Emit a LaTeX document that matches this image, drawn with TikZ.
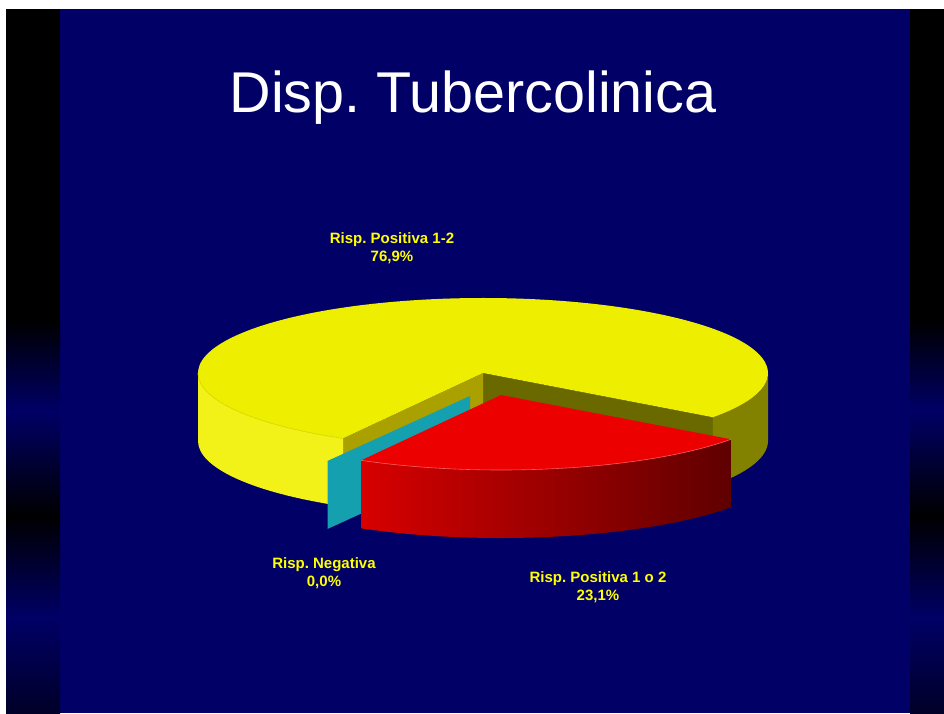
\documentclass[tikz,border=0pt]{standalone}
\usepackage{fontspec}
\setmainfont{Liberation Sans}
\usetikzlibrary{calc}
\definecolor{navy}{RGB}{0,0,102}
\definecolor{stripdark}{RGB}{0,0,40}
\definecolor{ytop}{RGB}{238,238,0}
\definecolor{yside}{RGB}{242,242,24}
\definecolor{yedge}{RGB}{222,222,0}
\definecolor{oside}{RGB}{130,130,0}
\definecolor{ocutR}{RGB}{105,105,0}
\definecolor{ocutL}{RGB}{170,160,0}
\definecolor{teal}{RGB}{20,160,175}
\definecolor{rtop}{RGB}{236,0,0}
\definecolor{rleft}{RGB}{215,0,0}
\definecolor{rright}{RGB}{95,0,0}
\definecolor{redge}{RGB}{255,90,90}
\definecolor{labyellow}{RGB}{255,255,0}
\tikzset{
  lab/.style={anchor=north, inner sep=0pt, align=center, text=labyellow,
    font=\bfseries\fontsize{15}{18.5}\selectfont},
  ell/.style={x radius=285, y radius=75}
}
\frenchspacing
\begin{document}
\begin{tikzpicture}[x=1pt,y=1pt]
\useasboundingbox (0,0) rectangle (944,713);
\fill[white] (0,0) rectangle (944,713);
% main panel
\fill[navy] (60,0) rectangle (910,704);
% side strips
\foreach \xa/\xb in {6/60, 910/944} {
  \fill[black] (\xa,393) rectangle (\xb,704);
  \shade[top color=black,bottom color=navy] (\xa,302) rectangle (\xb,393);
  \shade[top color=navy,bottom color=black] (\xa,197) rectangle (\xb,302);
  \shade[top color=black,bottom color=navy] (\xa,96) rectangle (\xb,197);
  \shade[top color=navy,bottom color=stripdark] (\xa,0) rectangle (\xb,96);
}
% title
\node[anchor=base, inner sep=0pt, text=white, font=\fontsize{57.5}{60}\selectfont] (title) at (473,600) {Disp. Tubercolinica};
% ---- yellow slice (76.9%)
\coordinate (C) at (483,340);
\coordinate (Cb) at (483,272);
\fill[ocutR] (C) -- ($(C)+(323.8:285 and 75)$) -- ($(Cb)+(323.8:285 and 75)$) -- (Cb) -- cycle;
\fill[ocutL] (C) -- ($(C)+(240.6:285 and 75)$) -- ($(Cb)+(240.6:285 and 75)$) -- (Cb) -- cycle;
\fill[oside] ($(C)+(323.8:285 and 75)$) arc[start angle=323.8, end angle=360, ell] -- ++(0,-68)
   arc[start angle=360, end angle=323.8, ell] -- cycle;
\fill[yside] ($(C)+(180:285 and 75)$) arc[start angle=180, end angle=240.6, ell] -- ++(0,-68)
   arc[start angle=240.6, end angle=180, ell] -- cycle;
\fill[ytop] (C) -- ($(C)+(323.8:285 and 75)$) arc[start angle=323.8, end angle=600.6, ell] -- cycle;
\draw[yedge, line width=0.8pt] ($(C)+(180:285 and 75)$) arc[start angle=180, end angle=240.6, ell];
% ---- teal slice (0.0%)
\coordinate (N) at (470,317);
\fill[teal] (N) -- ($(N)+(240:285 and 75)$) -- ++(0,-68) -- ($(N)+(0,-68)$) -- cycle;
% ---- red slice (23.1%)
\coordinate (R) at (501,318);
\shade[left color=rleft, right color=rright] ($(R)+(240.6:285 and 75)$) arc[start angle=240.6, end angle=323.8, ell]
   -- ++(0,-68) arc[start angle=323.8, end angle=240.6, ell] -- cycle;
\fill[rtop] (R) -- ($(R)+(240.6:285 and 75)$) arc[start angle=240.6, end angle=323.8, ell] -- cycle;
\draw[redge, line width=0.6pt] ($(R)+(240.6:285 and 75)$) arc[start angle=240.6, end angle=323.8, ell];
% ---- labels
\node[lab] (l1) at (392,481) {Risp. Positiva 1-2\\76,9\%};
\node[lab] (l2) at (324,156) {Risp. Negativa\\0,0\%};
\node[lab] (l3) at (598,142) {Risp. Positiva 1 o 2\\23,1\%};
\end{tikzpicture}
\end{document}
